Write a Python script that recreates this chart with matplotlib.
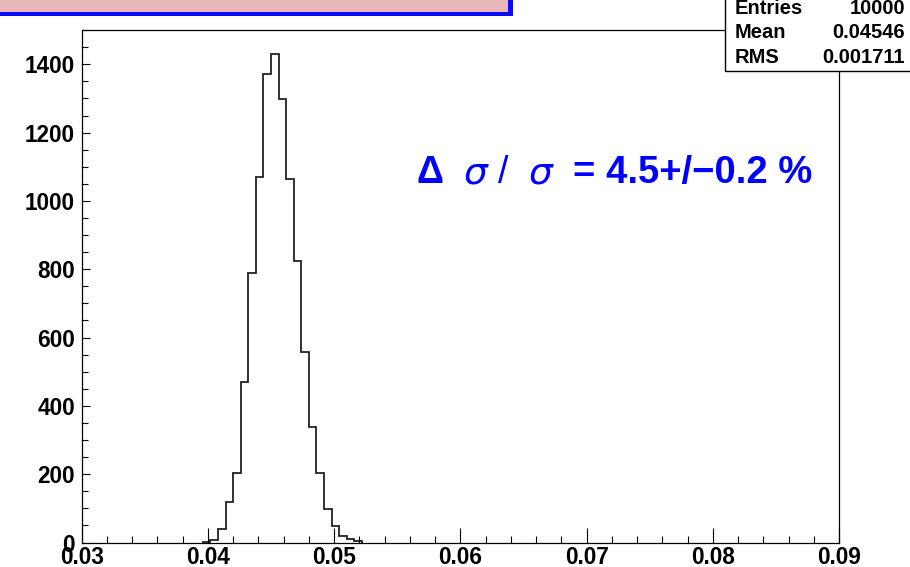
import numpy as np
import matplotlib
matplotlib.use('Agg')
import matplotlib.pyplot as plt
from matplotlib.patches import Rectangle
from matplotlib.ticker import MultipleLocator

# Dữ liệu histogram
bin_start = 0.0396
bin_width = 0.0006
counts = [2, 7, 39, 119, 204, 470, 788, 1071, 1372, 1431, 1299, 1064,
          824, 557, 338, 204, 97, 47, 18, 10, 3]
stats_names = ['Entries', 'Mean', 'RMS']
stats_values = ['10000', '0.04546', '0.001711']
x_ticks = [0.03, 0.04, 0.05, 0.06, 0.07, 0.08, 0.09]
y_ticks = [0, 200, 400, 600, 800, 1000, 1200, 1400]

W, H = 910, 567
plt.rcParams['font.family'] = ['Liberation Sans', 'DejaVu Sans']
plt.rcParams['mathtext.fontset'] = 'dejavusans'

fig = plt.figure(figsize=(W / 100, H / 100), dpi=100)


def px(x, y):
    # toạ độ pixel (gốc trên-trái) -> toạ độ figure
    return x / W, 1 - y / H


left, right, top, bottom = 81.7, 839.0, 29.5, 542.5
ax = fig.add_axes([left / W, 1 - bottom / H, (right - left) / W, (bottom - top) / H])

edges = bin_start + bin_width * np.arange(len(counts) + 1)
ax.stairs(counts, edges, color='#222222', linewidth=1.3, baseline=0)

ax.set_xlim(0.03, 0.09)
ax.set_ylim(0, 1502)
ax.set_xticks(x_ticks)
ax.set_xticklabels(['%.2f' % v for v in x_ticks])
ax.set_yticks(y_ticks)
ax.xaxis.set_minor_locator(MultipleLocator(0.002))
ax.yaxis.set_minor_locator(MultipleLocator(50))

ax.tick_params(axis='x', which='major', direction='in', length=10.6, width=0.8, pad=2.5)
ax.tick_params(axis='x', which='minor', direction='in', length=4.8, width=0.8)
ax.tick_params(axis='y', which='major', direction='in', length=6, width=0.8, pad=5)
ax.tick_params(axis='y', which='minor', direction='in', length=4.5, width=0.8)
for lab in ax.get_xticklabels() + ax.get_yticklabels():
    lab.set_fontsize(16.3)
    lab.set_fontweight('bold')
for s in ax.spines.values():
    s.set_linewidth(0.9)

# Hộp tiêu đề (hồng, bóng xanh)
fig.patches.append(Rectangle(px(0, 16), 513 / W, 16 / H, transform=fig.transFigure,
                             facecolor='#0a0af5', edgecolor='none', zorder=5))
fig.patches.append(Rectangle(px(0, 11.7), 508 / W, 11.7 / H, transform=fig.transFigure,
                             facecolor='#e8b8b8', edgecolor='none', zorder=6))

# Hộp thống kê
fig.patches.append(Rectangle(px(725, 70.5), 200 / W, 80 / H, transform=fig.transFigure,
                             facecolor='white', edgecolor='black', linewidth=1, zorder=5))
for i, (name, val) in enumerate(zip(stats_names, stats_values)):
    yb = 13.6 + 24.7 * i
    fig.text(*px(735, yb), name, ha='left', va='baseline', fontsize=14.5,
             fontweight='bold', zorder=7)
    fig.text(*px(905, yb), val, ha='right', va='baseline', fontsize=14.5,
             fontweight='bold', zorder=7)

# Chú thích màu xanh
blue = '#0000ff'
yb = 183
fig.text(*px(430, yb), '\u0394', ha='center', va='baseline', fontsize=27,
         fontweight='bold', color=blue)
fig.text(*px(476, yb), r'$\sigma$', ha='center', va='baseline', fontsize=27, color=blue)
fig.text(*px(503, yb), '/', ha='center', va='baseline', fontsize=27, color=blue)
fig.text(*px(541, yb), r'$\sigma$', ha='center', va='baseline', fontsize=27, color=blue)
fig.text(*px(573, yb), '= 4.5+/\u22120.2 %', ha='left', va='baseline', fontsize=27.5,
         fontweight='bold', color=blue)

fig.savefig('out.png', dpi=100)
